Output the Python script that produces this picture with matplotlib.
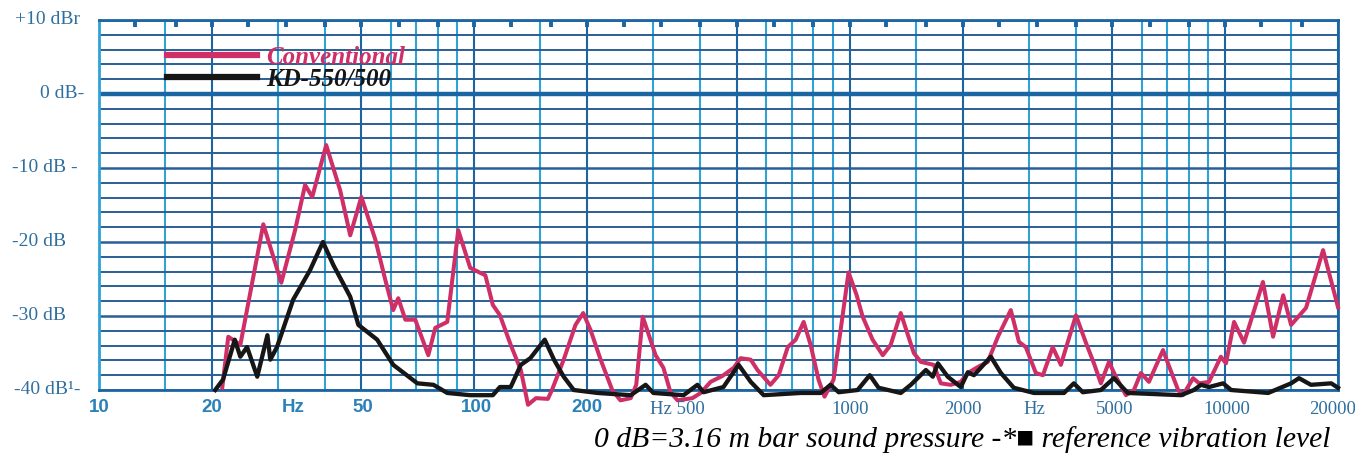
import numpy as np
import matplotlib
matplotlib.use("Agg")
import matplotlib.pyplot as plt
import matplotlib.transforms as mtransforms

# Conventional (pink) response, frequency in Hz and level in dB
conv_hz = [21.3, 22.1, 23.8, 27.4, 30.6, 33.3, 35.4, 37.0, 40.3, 43.9, 46.7, 50.0,
           54.5, 57.9, 60.8, 62.7, 65.5, 69.6, 75.4, 78.7, 84.7, 90.6, 97.5, 107,
           112, 117, 125, 133, 139, 146, 157, 161, 173, 186, 195, 204, 217, 233,
           245, 261, 270, 281, 304, 319, 333, 348, 381, 401, 426, 458, 491, 512,
           545, 568, 615, 647, 684, 718, 754, 787, 826, 857, 906, 946, 993, 1044,
           1083, 1151, 1225, 1286, 1368, 1482, 1547, 1675, 1749, 1859, 1977, 2065,
           2194, 2333, 2483, 2687, 2825, 2946, 3133, 3273, 3475, 3653, 4007, 4259,
           4475, 4670, 4907, 5119, 5445, 5718, 5970, 6270, 6837, 7047, 7499, 7727,
           8222, 8531, 9065, 9750, 10060, 10570, 11240, 12620, 13430, 14290, 15000,
           16440, 18250, 20000]
conv_db = [-39.7, -32.8, -33.9, -17.6, -25.5, -18.4, -12.3, -13.9, -6.9, -13.0, -19.1, -13.9,
           -19.7, -25.1, -29.2, -27.6, -30.5, -30.5, -35.3, -31.6, -30.8, -18.4, -23.5, -24.5,
           -28.5, -29.9, -33.9, -37.3, -42.0, -41.1, -41.2, -40.0, -35.9, -31.2, -29.6, -31.9,
           -35.9, -40.0, -41.4, -41.1, -39.3, -30.1, -35.3, -37.0, -40.3, -41.4, -41.1, -40.4,
           -38.9, -38.1, -37.0, -35.7, -35.9, -37.3, -39.3, -38.0, -34.2, -33.2, -30.8, -33.9,
           -38.6, -40.9, -38.6, -31.9, -24.1, -27.2, -30.1, -33.2, -35.3, -33.9, -29.6, -35.0,
           -36.2, -36.6, -39.1, -39.3, -38.9, -37.7, -36.9, -36.2, -32.8, -29.2, -33.5, -34.2,
           -37.7, -38.0, -34.2, -36.6, -29.9, -33.6, -36.4, -39.1, -36.2, -38.2, -40.7, -40.0,
           -37.7, -38.9, -34.6, -36.4, -40.0, -40.7, -38.4, -39.1, -38.9, -35.5, -36.4, -30.8,
           -33.6, -25.4, -32.8, -27.2, -31.2, -28.9, -21.1, -28.8]

# KD-550/500 (black) response
kd_hz = [20.4, 21.4, 23.0, 23.8, 24.8, 26.4, 28.1, 28.6, 29.8, 32.9, 36.5, 39.5, 42.1,
         46.7, 49.1, 55.1, 60.8, 70.5, 77.8, 84.7, 97.5, 112, 117, 125, 133, 141, 154,
         163, 173, 184, 213, 261, 286, 300, 361, 393, 408, 461, 506, 545, 590, 740, 837,
         889, 935, 1050, 1131, 1194, 1368, 1455, 1596, 1665, 1718, 1825, 1977, 2065, 2143,
         2208, 2377, 2528, 2737, 3097, 3724, 3955, 4180, 4670, 5058, 5508, 7638, 8260,
         8630, 9065, 9886, 10380, 13030, 15000, 15740, 16940, 19190, 20000]
kd_db = [-40.0, -38.6, -33.2, -35.5, -34.2, -38.2, -32.6, -35.9, -34.2, -27.8, -23.8, -20.0, -23.1,
         -27.4, -31.2, -33.2, -36.6, -39.1, -39.3, -40.4, -40.7, -40.7, -39.6, -39.6, -36.6, -35.7, -33.2,
         -35.9, -38.2, -40.0, -40.4, -40.7, -39.3, -40.4, -40.7, -39.3, -40.3, -39.6, -36.6, -38.9, -40.7,
         -40.4, -40.4, -39.3, -40.3, -40.0, -38.0, -39.7, -40.4, -39.3, -37.3, -38.2, -36.4, -38.2, -39.6,
         -37.6, -38.0, -37.3, -35.5, -37.7, -39.7, -40.4, -40.4, -39.1, -40.3, -40.0, -38.4, -40.4, -40.7,
         -40.0, -39.3, -39.6, -39.1, -40.0, -40.4, -39.1, -38.4, -39.3, -39.1, -39.7]

third_octaves = [12.5, 16, 20, 25, 31.5, 40, 50, 63, 80, 100, 125, 160, 200, 250, 315, 400,
                 500, 630, 800, 1000, 1250, 1600, 2000, 2500, 3150, 4000, 5000, 6300, 8000,
                 10000, 12500, 16000]

y_labels = ["+10 dBr", "0 dB-", "-10 dB -", "-20 dB", "-30 dB", "-40 dB\u00b9-"]
y_label_vals = [10, 0, -10, -20, -30, -40]

x_labels_sans = ["10", "20", "Hz", "50", "100", "200"]
x_pos_sans = [10, 20, 32.9, 50.5, 101, 200]
x_labels_serif = ["Hz 500", "1000", "2000", "Hz", "5000", "10000", "20000"]
x_pos_serif = [348, 1000, 2000, 3100, 5090, 10120, 19300]

PINK = "#cf2f67"
CYAN = "#2fa3d6"
DARK = "#1c65a3"
NAVY = "#2a5f96"
LABEL = "#2f6f9e"

W, H = 1355, 457
fig = plt.figure(figsize=(W / 100, H / 100), dpi=100)
ax = fig.add_axes([99 / W, 1 - 390 / H, (1338 - 99) / W, (390 - 20) / H])
ax.set_xscale("log")
ax.set_xlim(10, 20000)
ax.set_ylim(-40, 10)

# chart paper grid
for dec in [10, 100, 1000, 10000]:
    for m in [1, 1.5, 2, 3, 4, 5, 6, 7, 8, 9]:
        f = dec * m
        if f > 20000:
            continue
        col = DARK if m in (1, 2, 5) else CYAN
        ax.axvline(f, color=col, lw=1.5, zorder=1)
for v in range(-40, 11, 2):
    if v == 0:
        ax.axhline(v, color=DARK, lw=3.2, zorder=1.5)
    else:
        ax.axhline(v, color=NAVY, lw=1.4 if v % 10 else 1.8, zorder=1.2)

# top 1/3 octave marks
ax.vlines(third_octaves, 9.0, 10, color=DARK, lw=2.8, zorder=2)

for s in ax.spines.values():
    s.set_color(DARK)
    s.set_linewidth(2)
ax.spines["left"].set_color(CYAN)
ax.set_xticks([])
ax.set_yticks([])
ax.minorticks_off()

ax.plot(conv_hz, conv_db, color=PINK, lw=2.9, solid_joinstyle="round", clip_on=False,
        zorder=3, label="Conventional")
ax.plot(kd_hz, kd_db, color="#161616", lw=3.1, solid_joinstyle="round", clip_on=False,
        zorder=4, label="KD-550/500")

leg = ax.legend(loc="upper left", bbox_to_anchor=(167 / W, 1 - 46 / H),
                bbox_transform=fig.transFigure, frameon=False, borderpad=0,
                borderaxespad=0, handlelength=3.6, handletextpad=0.35, labelspacing=-0.05,
                prop={"family": "Liberation Serif", "style": "italic", "weight": "bold",
                      "size": 18})
for line in leg.get_lines():
    line.set_linewidth(4.5)
leg.get_texts()[0].set_color(PINK)
leg.get_texts()[1].set_color("#161616")

# y labels on the left
ylab_x = [15, 40, 12, 12, 12, 14]
for txt, v, px in zip(y_labels, y_label_vals, ylab_x):
    ypx = 94 - 7.4 * v
    fig.text(px / W, 1 - ypx / H, txt, ha="left", va="center", color=LABEL,
             family="Liberation Serif", fontsize=14)

trans = mtransforms.blended_transform_factory(ax.transData, fig.transFigure)
for txt, f in zip(x_labels_sans, x_pos_sans):
    ax.text(f, 1 - 408 / H, txt, transform=trans, ha="center", va="center",
            color="#2b82b9", family="Liberation Sans", weight="bold", fontsize=13.5)
for txt, f in zip(x_labels_serif, x_pos_serif):
    ax.text(f, 1 - 410 / H, txt, transform=trans, ha="center", va="center",
            color=LABEL, family="Liberation Serif", fontsize=13.5)

fig.text(1330 / W, 1 - 440 / H,
         "0 dB=3.16 m bar sound pressure -*\u25a0 reference vibration level",
         ha="right", va="center", color="black", style="italic",
         family=["Liberation Serif", "DejaVu Sans"], fontsize=21.3)

fig.savefig("out.png", dpi=100, facecolor="white")
